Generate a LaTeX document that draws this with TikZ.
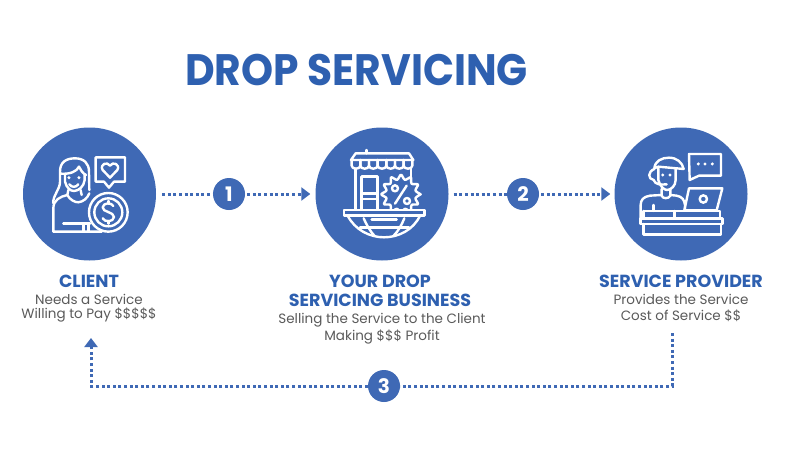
\documentclass[tikz,border=0pt]{standalone}
\usepackage{fontspec}
\setmainfont{Poppins}
\usetikzlibrary{arrows.meta}
\definecolor{disc}{HTML}{3F69B5}
\definecolor{headc}{HTML}{2E60B0}
\definecolor{bodyc}{HTML}{5A5A5A}
\newcommand{\fpx}[1]{\fontsize{#1}{#1}\selectfont}
\tikzset{
  bigdisc/.style={circle,fill=disc,minimum size=133pt,inner sep=0pt},
  numdisc/.style={circle,fill=disc,minimum size=32pt,inner sep=0pt,text=white,font=\fpx{20}\bfseries},
  dotline/.style={draw=disc,line width=3pt,dash pattern=on 3pt off 2.6pt},
  tipline/.style={dotline,-{Triangle[length=9pt,width=13pt,fill=disc]}},
  ico/.style={draw=white,line width=2.4pt,line join=round,line cap=round},
  head/.style={text=headc,font=\fpx{17.5}\bfseries,inner sep=0pt,anchor=center},
  desc/.style={text=bodyc,font=\fpx{13.5},inner sep=0pt,anchor=center},
  iconframe/.style={x=0.3333pt,y=-0.3333pt},
}
\begin{document}
\begin{tikzpicture}[x=1pt,y=-1pt]
\useasboundingbox[fill=white] (0,0) rectangle (800,471);
\node[text=headc,font=\fpx{44}\bfseries,inner sep=0pt,xscale=0.927] (title) at (356.5,70) {DROP SERVICING};
\node[bigdisc] (client) at (89.5,194) {};
\node[bigdisc] (business) at (382,194) {};
\node[bigdisc] (provider) at (681,194) {};
\node[numdisc] (n1) at (229,194) {1};
\node[numdisc] (n2) at (523,194) {2};
\node[numdisc] (n3) at (384,386) {3};
\node[head] (t1) at (89,281) {CLIENT};
\node[desc] (d1a) at (89,299) {Needs a Service};
\node[desc] (d1b) at (89,315) {Willing to Pay \$\$\$\$\$};
\node[head] (t2a) at (380,281) {YOUR DROP};
\node[head] (t2b) at (380,300) {SERVICING BUSINESS};
\node[desc] (d2a) at (382,320) {Selling the Service to the Client};
\node[desc] (d2b) at (382,337) {Making \$\$\$ Profit};
\node[head] (t3) at (681,281) {SERVICE PROVIDER};
\node[desc] (d3a) at (681,299) {Provides the Service};
\node[desc] (d3b) at (681,316) {Cost of Service \$\$};
\coordinate (c3s) at (672,333);
\coordinate (c3r) at (672,386);
\coordinate (c3l) at (91,386);
\coordinate (c3e) at (91,338);
\draw[dotline,shorten <=6pt] (client) -- (n1);
\draw[tipline,shorten >=5pt,shorten <=2pt] (n1) -- (business);
\draw[dotline,shorten <=5pt] (business) -- (n2);
\draw[tipline,shorten >=4pt,shorten <=2pt] (n2) -- (provider);
\draw[dotline] (c3s) -- (c3r) -- (n3);
\draw[tipline] (n3) -- (c3l) -- (c3e);
% client icon
\begin{scope}[shift={(10,125)},iconframe]
\draw[ico] (130,235) .. controls (128,210) and (150,195) .. (150,170) -- (150,140) .. controls (150,110) and (170,100) .. (195,100) .. controls (222,100) and (237,115) .. (237,140) -- (238,195);
\draw[ico] (152,146) .. controls (180,148) and (200,140) .. (207,125) .. controls (212,135) and (218,145) .. (228,150);
\draw[ico] (165,150) -- (165,170) .. controls (170,190) and (182,198) .. (192,198) .. controls (205,198) and (222,185) .. (224,165) -- (224,150);
\draw[ico] (178,178) .. controls (185,188) and (198,188) .. (205,178);
\fill[white] (177,158) circle (5) (207,158) circle (5);
\draw[ico] (175,195) -- (172,210) .. controls (180,225) and (195,232) .. (205,232) .. controls (220,230) and (232,220) .. (238,205) (212,195) -- (215,210);
\draw[ico] (172,210) .. controls (150,215) and (130,225) .. (130,250) -- (130,320) -- (275,320);
\draw[ico] (160,295) -- (240,295) (220,295) -- (220,320) (235,295) -- (235,320);
\draw[ico,fill=disc] (295,262) circle (58);
\draw[ico] (295,262) circle (42);
\draw[ico] (310,243) .. controls (305,232) and (280,232) .. (278,247) .. controls (277,262) and (312,260) .. (312,276) .. controls (311,292) and (283,292) .. (278,280);
\draw[ico] (295,228) -- (295,236) (295,288) -- (295,296);
\draw[ico] (257,97) -- (345,97) -- (345,170) -- (312,170) -- (297,188) -- (282,170) -- (257,170) -- cycle;
\draw[ico] (300,158) -- (278,135) .. controls (268,118) and (292,108) .. (300,122) .. controls (308,108) and (332,118) .. (322,135) -- cycle;
\end{scope}
% business icon
\begin{scope}[shift={(305,125)},iconframe]
\draw[ico] (185,75) -- (185,85);
\draw[ico] (152,85) -- (312,85) -- (325,105) -- (138,105) -- cycle;
\foreach \a in {140,166,192,218,244,270,296}{
  \draw[ico] (\a,105) -- (\a,122) .. controls (\a,134) and (\a+26,134) .. (\a+26,122) -- (\a+26,105);
}
\draw[ico] (152,132) -- (152,255) (318,132) -- (318,160);
\draw[ico] (170,155) -- (218,155) -- (218,255) (170,255) -- (170,155) (170,205) -- (218,205) (170,222) -- (218,222);
\draw[ico,fill=disc] plot[samples=25,domain=0:360,variable=\t,smooth cycle] ({288+(52+7*cos(12*\t))*cos(\t)},{208+(52+7*cos(12*\t))*sin(\t)});
\draw[ico] (270,190) circle (9) (306,228) circle (9) (305,182) -- (270,236);
\draw[ico,fill=disc] (117,255) rectangle (358,272);
\draw[ico] (128,272) .. controls (150,315) and (195,337) .. (237,337) .. controls (280,337) and (325,315) .. (345,272);
\draw[ico] (176,280) .. controls (185,300) and (195,318) .. (208,332) (298,280) .. controls (290,300) and (280,318) .. (266,332);
\draw[ico] (200,284) -- (275,284) (165,308) -- (312,308);
\end{scope}
% provider icon
\begin{scope}[shift={(605,125)},iconframe]
\draw[ico] (252,87) -- (348,87) -- (348,152) -- (282,152) -- (254,165) -- cycle;
\fill[white] (280,117) circle (5) (300,117) circle (5) (322,117) circle (5);
\draw[ico] (148,130) .. controls (150,108) and (170,98) .. (192,98) .. controls (215,98) and (232,112) .. (236,132) -- (160,125) -- cycle;
\draw[ico] (160,130) -- (160,165) .. controls (165,185) and (178,195) .. (186,195) .. controls (198,195) and (212,182) .. (212,165) -- (212,130);
\fill[white] (173,150) circle (5) (195,150) circle (5);
\draw[ico] (148,132) .. controls (128,140) and (128,162) .. (146,165) .. controls (150,178) and (165,180) .. (185,178);
\draw[ico] (170,192) -- (170,212) .. controls (172,222) and (192,222) .. (196,212) -- (196,192);
\draw[ico] (170,210) -- (135,212) .. controls (115,215) and (107,225) .. (107,240) -- (107,280);
\draw[ico] (196,210) -- (215,212) .. controls (232,215) and (238,225) .. (240,240) -- (240,255);
\draw[ico] (145,240) -- (145,258);
\draw[ico] (252,190) -- (352,190) -- (335,256) -- (238,256) -- cycle;
\draw[ico] (295,222) circle (11);
\draw[ico] (115,258) -- (345,258) -- (345,280) (115,258) -- (115,280) (208,258) -- (208,280);
\draw[ico] (107,280) rectangle (352,297);
\draw[ico] (115,297) -- (115,328) -- (348,328) -- (348,297);
\end{scope}
\end{tikzpicture}
\end{document}
